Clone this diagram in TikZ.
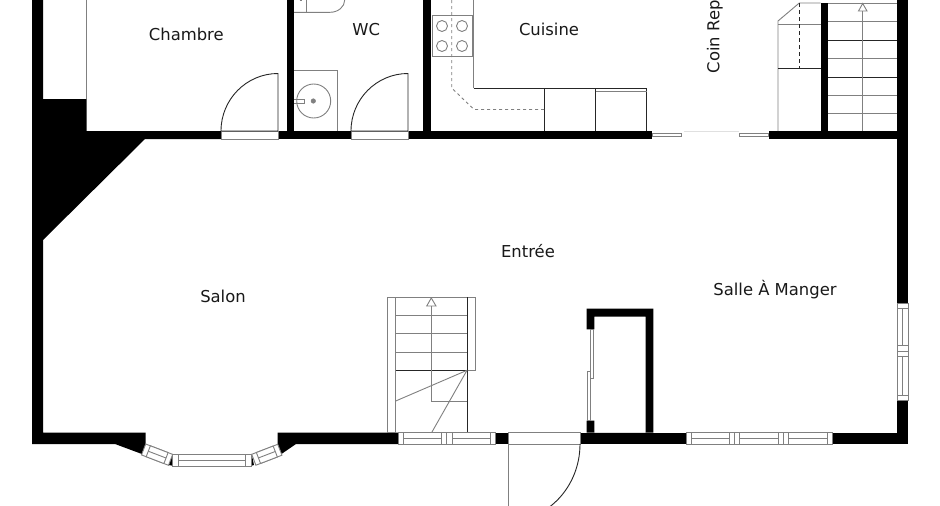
\documentclass[tikz,border=0pt]{standalone}
\usepackage{fontspec}
\setmainfont{DejaVu Sans}
\usetikzlibrary{positioning}

\tikzset{
    wall/.style={fill=black, draw=none},
    blackline/.style={draw=black!85, line width=0.9pt},
    greyline/.style={draw=black!50, line width=0.9pt},
    frame/.style={draw=black!50, line width=0.9pt, fill=white},
    roomlabel/.style={font=\fontsize{16.4}{18}\selectfont, text=black!90, inner sep=0pt, anchor=base}
}

\begin{document}
\begin{tikzpicture}[x=1pt,y=-1pt]
    \useasboundingbox (0,0) rectangle (940,506);
    \clip (0,0) rectangle (940,506);
    \fill[white] (0,0) rectangle (940,506);

    % walls
    \fill[wall] (32,0) -- (43,0) -- (43,99) -- (86.5,99) -- (86.5,131) -- (221,131) -- (221,139)
        -- (145,139) -- (43,240) -- (43,432.5) -- (145.7,432.5) -- (145.7,444) -- (142.7,454.3)
        -- (115,444) -- (32,444) -- cycle;
    \fill[wall] (277.7,432.5) -- (398,432.5) -- (398,444) -- (296,444) -- (281,454.3) -- (277.7,444) -- cycle;
    \fill[wall] (278,131) rectangle (351,139);
    \fill[wall] (408,131) rectangle (651.7,139);
    \fill[wall] (768.5,131) rectangle (897,139);
    \fill[wall] (286.7,0) rectangle (294,131);
    \fill[wall] (423.3,0) rectangle (430.7,131);
    \fill[wall] (820.7,3) rectangle (828.3,131);
    \fill[wall] (897,0) rectangle (908,303);
    \fill[wall] (897,400) rectangle (908,444);
    \fill[wall] (832,432.5) rectangle (908,444);
    \fill[wall] (580,432.5) rectangle (686,444);
    \fill[wall] (495,432.5) rectangle (508.3,444);
    \fill[wall] (586.7,432.5) -- (586.7,420.7) -- (594.3,420.7) -- (594.3,432.5) -- (645.7,432.5)
        -- (645.7,316.5) -- (594.3,316.5) -- (594.3,329.3) -- (586.7,329.3) -- (586.7,308.5)
        -- (653.3,308.5) -- (653.3,432.5) -- cycle;
    \fill[wall] (168,465) -- (172.7,454.3) -- (172.7,465.7) -- cycle;
    \fill[wall] (254,465) -- (251.7,454.3) -- (251.7,465.7) -- cycle;

    % inner doors
    \draw[frame] (221,131) rectangle (278,139);
    \draw[blackline] (221,131) -- (278,131) -- (278,73.5)
        .. controls (246.5,73.5) and (221,99.3) .. (221,131);
    \draw[frame] (351,131) rectangle (408,139);
    \draw[blackline] (351,131) -- (408,131) -- (408,73.5)
        .. controls (376.5,73.5) and (351,99.3) .. (351,131);

    % entrance door
    \draw[frame] (508.3,432.5) rectangle (580,444);
    \draw[greyline] (508,444) -- (508,506);
    \draw[blackline] (580,444) .. controls (580,486.5) and (547.8,521) .. (508,521);

    % chambre
    \draw[greyline] (86.5,0) -- (86.5,99);

    % wc
    \draw[greyline] (294,12.3) -- (330,12.3) .. controls (338,12.3) and (344.7,7) .. (344.7,0);
    \draw[greyline] (306.7,0) -- (306.7,12.3);
    \draw[greyline] (299.5,0.7) -- (302,0.7);
    \draw[greyline] (294,70.7) -- (337.3,70.7) -- (337.3,131);
    \draw[greyline] (313.7,101) circle (17);
    \draw[black!50, fill=black!50] (313.3,101) circle (2.3);
    \draw[greyline] (294,99) -- (304,99) -- (304,103) -- (294,103);

    % cuisine
    \draw[greyline] (473.7,0) -- (473.7,88.3);
    \draw[blackline] (473.7,88.3) -- (646.7,88.3) -- (646.7,131);
    \draw[blackline] (544.7,88.3) -- (544.7,131);
    \draw[blackline] (595.5,88.3) -- (595.5,131);
    \draw[greyline] (595.5,91) -- (646.7,91);
    \draw[greyline, dashed] (451.7,0) -- (451.7,88) -- (474,109.5) -- (544.7,109.5);
    \draw[greyline] (432.3,15.7) rectangle (472.7,56.3);
    \foreach \cx in {442,462}
        \foreach \cy in {26,46}
            \draw[greyline] (\cx,\cy) circle (5.5);

    % coin repas
    \draw[frame] (652,133.3) rectangle (681.7,136.7);
    \draw[frame] (739,133.3) rectangle (768.5,136.7);
    \draw[black!12, line width=0.8pt] (684,131.3) -- (739,131.3);
    \draw[greyline] (778,131) -- (778,21) -- (799.3,3) -- (820.7,3);
    \draw[greyline] (778,24.5) -- (820.7,24.5);
    \draw[blackline] (778,68) -- (820.7,68);
    \draw[blackline, dash pattern=on 4pt off 3pt] (799.3,3) -- (799.3,68);

    % stairs on the right
    \foreach \ty/\tc in {3/50,21/50,40/85,58/50,77/85,95/50,113/50}
        \draw[draw=black!\tc, line width=0.9pt] (828.3,\ty) -- (897,\ty);
    \draw[greyline] (862.7,131) -- (862.7,11);
    \draw[greyline] (862.7,3.5) -- (858.5,11) -- (867,11) -- cycle;

    % stairs in the entree
    \draw[greyline] (395.7,432.5) -- (387.7,432.5) -- (387.7,297.3) -- (475,297.3) -- (475,370.3) -- (467.3,370.3);
    \draw[greyline] (395.7,297.3) -- (395.7,432.5);
    \foreach \ty in {315.7,333.7,352}
        \draw[greyline] (395.7,\ty) -- (467.3,\ty);
    \draw[blackline] (395.7,370.3) -- (467.3,370.3);
    \draw[blackline] (467.3,297.3) -- (467.3,432.5);
    \draw[greyline] (467,370.3) -- (395.7,401);
    \draw[greyline] (467,370.3) -- (431.7,432.5);
    \draw[greyline] (431.3,306) -- (431.3,401.3) -- (467.3,401.3);
    \draw[greyline] (431.3,298) -- (426.7,306) -- (436,306) -- cycle;

    % closet sliding doors
    \draw[frame] (590.7,329.3) rectangle (593.5,378.3);
    \draw[frame] (587.9,371.3) rectangle (590.7,420.7);

    % windows along the bottom wall
    \draw[frame] (398,432.5) rectangle (495,444);
    \foreach \xa/\xb in {403.3/441.7,452/490.3} {
        \draw[frame] (\xa,432.5) rectangle (\xb,444);
        \draw[greyline] (\xa,438.2) -- (\xb,438.2);
    }
    \draw[greyline] (446.7,432.5) -- (446.7,444);
    \draw[frame] (686,432.5) rectangle (832,444);
    \foreach \xa/\xb in {691/729.3,739.3/778.3,788.3/827.3} {
        \draw[frame] (\xa,432.5) rectangle (\xb,444);
        \draw[greyline] (\xa,438.2) -- (\xb,438.2);
    }
    \draw[greyline] (734.3,432.5) -- (734.3,444);
    \draw[greyline] (783.3,432.5) -- (783.3,444);

    % window on the right wall
    \draw[frame] (897,303) rectangle (908,400);
    \foreach \ya/\yb in {308.3/345.7,356.7/395} {
        \draw[frame] (897,\ya) rectangle (908,\yb);
        \draw[greyline] (902.5,\ya) -- (902.5,\yb);
    }
    \draw[greyline] (897,351) -- (908,351);

    % bay window
    \draw[frame] (172.7,454.3) rectangle (251.7,466);
    \draw[frame] (178.3,454.3) rectangle (245,466);
    \draw[greyline] (178.3,460.2) -- (245,460.2);
    \begin{scope}[shift={(145.7,444)},rotate=-21]
        \draw[frame] (0,0) rectangle (28.9,11.7);
        \draw[frame] (5,0) rectangle (24,11.7);
        \draw[greyline] (5,5.8) -- (24,5.8);
    \end{scope}
    \begin{scope}[shift={(251.7,454.3)},rotate=21]
        \draw[frame] (0,0) rectangle (27.9,11.7);
        \draw[frame] (5,0) rectangle (23,11.7);
        \draw[greyline] (5,5.8) -- (23,5.8);
    \end{scope}

    % room names
    \node[roomlabel] (chambre) at (186.3,40.7) {Chambre};
    \node[roomlabel] (wc) at (366.3,35) {WC};
    \node[roomlabel] (cuisine) at (549,35.7) {Cuisine};
    \node[roomlabel, rotate=90, anchor=base west] (coinrep) at (719.3,73.5) {Coin Rep};
    \node[roomlabel] (entree) at (528,257.2) {Entrée};
    \node[roomlabel] (salon) at (223,302.2) {Salon};
    \node[roomlabel] (salle) at (775,295.7) {Salle À Manger};
\end{tikzpicture}
\end{document}
